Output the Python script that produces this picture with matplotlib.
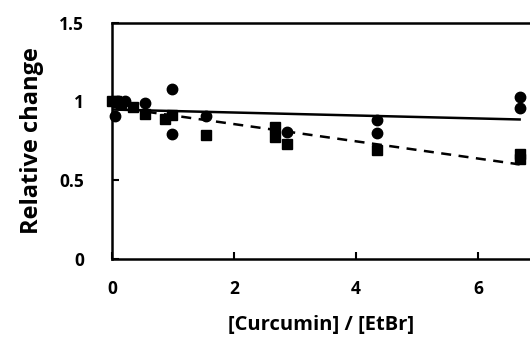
import matplotlib
matplotlib.use("Agg")
import matplotlib.pyplot as plt

# Circles (series 1)
circ_x = [0.05, 0.10, 0.21, 0.54, 0.99, 0.99, 1.54, 2.86, 4.34, 4.34, 6.68, 6.68]
circ_y = [0.906, 1.00, 1.00, 0.99, 1.077, 0.79, 0.91, 0.806, 0.88, 0.80, 1.025, 0.955]
# Squares (series 2)
sq_x = [0.00, 0.07, 0.14, 0.35, 0.54, 0.87, 0.99, 1.54, 2.67, 2.67, 2.86, 4.34, 6.68, 6.68]
sq_y = [1.00, 1.00, 0.99, 0.966, 0.92, 0.885, 0.915, 0.785, 0.84, 0.775, 0.727, 0.69, 0.668, 0.635]
# Fit lines (endpoints)
fit_x = [0.0, 6.68]
solid_y = [0.948, 0.885]
dashed_y = [0.965, 0.60]

xticks = [0, 2, 4, 6]
yticks = [0, 0.5, 1, 1.5]
yticklabels = ["0", "0.5", "1", "1.5"]

plt.rcParams['font.family'] = ['Open Sans', 'DejaVu Sans']

fig = plt.figure(figsize=(5.30, 3.38), dpi=100)
ax = fig.add_axes([0.2113, 0.2337, 0.7887, 0.6997])

ax.plot(fit_x, solid_y, color='black', lw=1.8, zorder=2)
ax.plot(fit_x, dashed_y, color='black', lw=1.8, ls=(0, (4, 3)), zorder=2)
ax.plot(circ_x, circ_y, 'o', color='black', ms=7.5, zorder=3, clip_on=False)
ax.plot(sq_x, sq_y, 's', color='black', ms=7, zorder=3, clip_on=False)

ax.set_xlim(0, 6.85)
ax.set_ylim(0, 1.5)
ax.set_xticks(xticks)
ax.set_xticklabels([str(t) for t in xticks])
ax.set_yticks(yticks)
ax.set_yticklabels(yticklabels)
for s in ['left', 'bottom', 'top', 'right']:
    ax.spines[s].set_linewidth(1.8)
ax.spines['right'].set_visible(False)
ax.tick_params(direction='in', length=5, width=1.5, labelsize=12.5)
for lab in ax.get_xticklabels() + ax.get_yticklabels():
    lab.set_fontweight('bold')
ax.tick_params(axis='y', pad=20)
ax.tick_params(axis='x', pad=15)

ax.set_xlabel('[Curcumin] / [EtBr]', fontsize=14.5, fontweight='bold', labelpad=12)
ax.set_ylabel('Relative change', fontsize=17, fontweight='bold', labelpad=11)

fig.savefig('out.png', dpi=100)
